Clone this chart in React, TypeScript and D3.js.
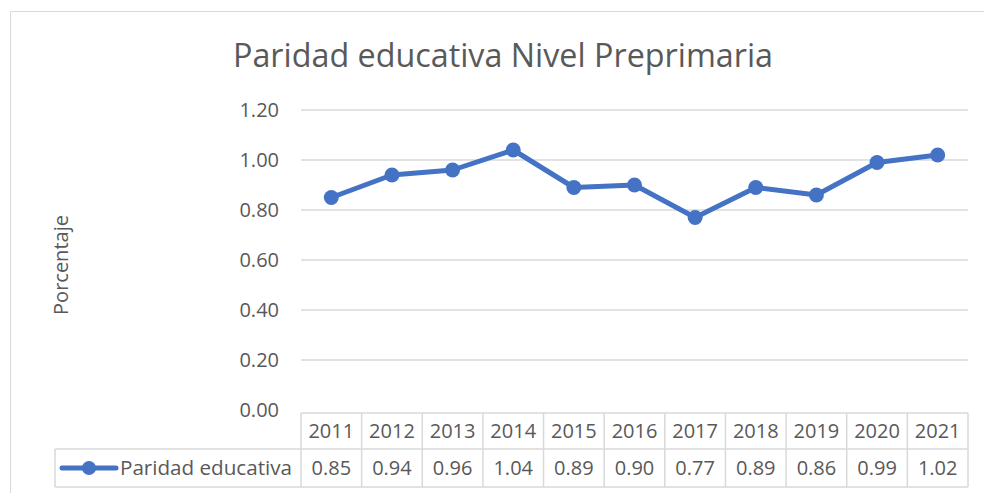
import React from "react";
import * as d3 from "d3";

const years = ["2011","2012","2013","2014","2015","2016","2017","2018","2019","2020","2021"];
const values = [0.85,0.94,0.96,1.04,0.89,0.90,0.77,0.89,0.86,0.99,1.02];
const yTicks = [0,0.2,0.4,0.6,0.8,1.0,1.2];
const title = "Paridad educativa Nivel Preprimaria";
const seriesName = "Paridad educativa";
const yLabel = "Porcentaje";

export default function App() {
  const W = 984, H = 493;
  const left = 301, right = 968;
  const x = d3.scaleBand<string>().domain(years).range([left, right]);
  const y = d3.scaleLinear().domain([0, 1.2]).range([410, 110]);
  const line = d3.line<number>().x((_, i) => x(years[i])! + x.bandwidth() / 2).y(d => y(d));
  const font = "'Open Sans', sans-serif";
  const grey = "#595959";
  const blue = "#4472C4";
  const border = "#d9d9d9";
  const r1 = 413, r2 = 449, r3 = 487;
  const legL = 55;
  const fs = 20;
  return (
    <svg width={W} height={H} style={{ position: "absolute", left: 0, top: 0 }} fontFamily={font}>
      <rect x={0} y={0} width={W} height={H} fill="#fff" />
      <path d={`M10.5,${H} V11.5 H${W}`} fill="none" stroke={border} strokeWidth={1} />
      <text x={503} y={67} textAnchor="middle" fontSize={32} textLength={540} lengthAdjust="spacingAndGlyphs" fill={grey}>{title}</text>
      <text transform={`translate(68,265) rotate(-90)`} textAnchor="middle" fontSize={20} fill={grey}>{yLabel}</text>
      {yTicks.map(t => (
        <g key={t}>
          {t > 0 && <line x1={left} x2={right} y1={y(t)} y2={y(t)} stroke={border} strokeWidth={1.5} />}
          <text x={279} y={y(t)} dy="0.36em" textAnchor="end" fontSize={fs} fill={grey}>{t.toFixed(2)}</text>
        </g>
      ))}
      <g stroke={border} strokeWidth={1.5} fill="none">
        <line x1={left} x2={right} y1={r1} y2={r1} />
        <line x1={legL} x2={right} y1={r2} y2={r2} />
        <line x1={legL} x2={right} y1={r3} y2={r3} />
        <line x1={legL} x2={legL} y1={r2} y2={r3} />
        {years.map(yr => (
          <line key={yr} x1={x(yr)!} x2={x(yr)!} y1={r1} y2={r3} />
        ))}
        <line x1={right} x2={right} y1={r1} y2={r3} />
      </g>
      {years.map((yr, i) => (
        <g key={yr}>
          <text x={x(yr)! + x.bandwidth() / 2} y={(r1 + r2) / 2} dy="0.36em" textAnchor="middle" fontSize={fs} fill={grey}>{yr}</text>
          <text x={x(yr)! + x.bandwidth() / 2} y={(r2 + r3) / 2} dy="0.36em" textAnchor="middle" fontSize={fs} fill={grey}>{values[i].toFixed(2)}</text>
        </g>
      ))}
      <line x1={62} x2={116} y1={(r2 + r3) / 2} y2={(r2 + r3) / 2} stroke={blue} strokeWidth={5} strokeLinecap="round" />
      <circle cx={89} cy={(r2 + r3) / 2} r={7} fill={blue} />
      <text x={120} y={(r2 + r3) / 2} dy="0.36em" fontSize={fs} textLength={172} lengthAdjust="spacingAndGlyphs" fill={grey}>{seriesName}</text>
      <path d={line(values)!} fill="none" stroke={blue} strokeWidth={5} strokeLinejoin="round" />
      {values.map((v, i) => (
        <circle key={i} cx={x(years[i])! + x.bandwidth() / 2} cy={y(v)} r={7.5} fill={blue} />
      ))}
    </svg>
  );
}
